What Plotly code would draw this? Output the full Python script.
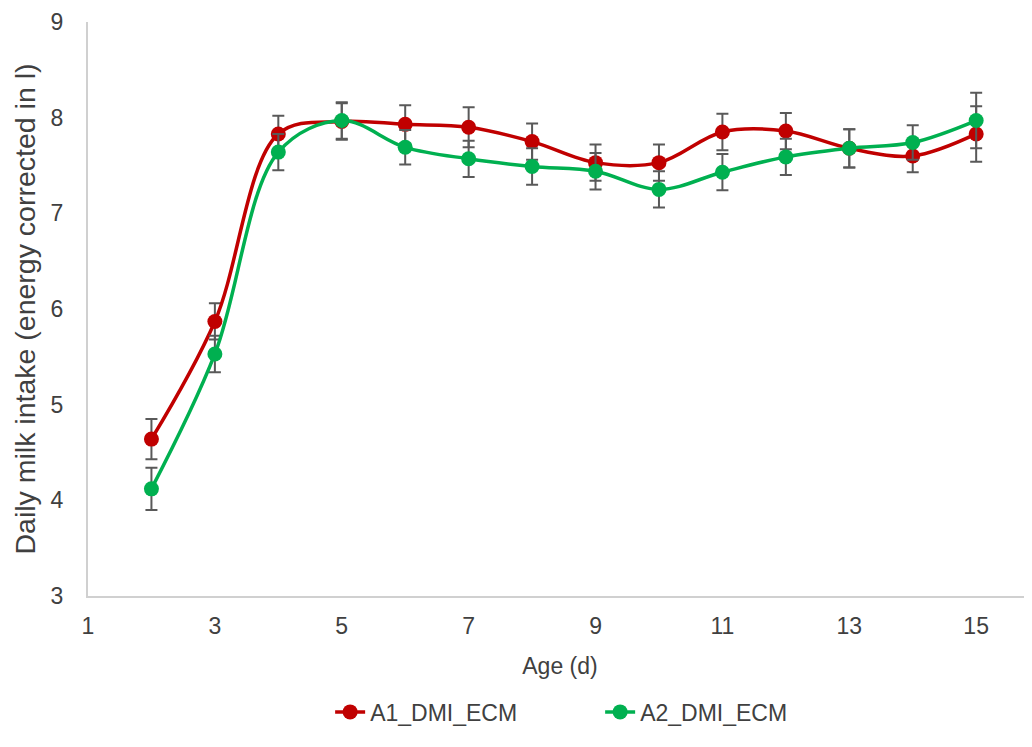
import plotly.graph_objects as go

age = [2, 3, 4, 5, 6, 7, 8, 9, 10, 11, 12, 13, 14, 15]
a1_values = [4.64, 5.87, 7.83, 7.96, 7.93, 7.90, 7.75, 7.53, 7.53, 7.85, 7.86, 7.68, 7.60, 7.83]
a1_err = [0.21, 0.19, 0.19, 0.19, 0.20, 0.21, 0.19, 0.19, 0.19, 0.19, 0.19, 0.20, 0.17, 0.29]
a2_values = [4.12, 5.53, 7.64, 7.97, 7.69, 7.57, 7.49, 7.44, 7.25, 7.43, 7.59, 7.68, 7.74, 7.97]
a2_err = [0.22, 0.19, 0.19, 0.19, 0.18, 0.19, 0.19, 0.19, 0.19, 0.19, 0.19, 0.20, 0.18, 0.29]

series_names = ["A1_DMI_ECM", "A2_DMI_ECM"]
x_ticks = [1, 3, 5, 7, 9, 11, 13, 15]
y_ticks = [3, 4, 5, 6, 7, 8, 9]

RED = "#C00000"
GREEN = "#00B050"
ERR = "#595959"
TXT = "#404040"
FONT = "Liberation Sans, Arial, sans-serif"

fig = go.Figure()
for name, vals, errs, col in [
    (series_names[0], a1_values, a1_err, RED),
    (series_names[1], a2_values, a2_err, GREEN),
]:
    fig.add_trace(go.Scatter(
        x=age, y=vals, name=name, mode="lines+markers",
        line=dict(color=col, width=3.5, shape="spline", smoothing=1),
        marker=dict(color=col, size=15),
        error_y=dict(type="data", array=errs, visible=True,
                     color=ERR, thickness=2, width=6),
    ))

fig.update_layout(
    width=1024, height=739,
    margin=dict(l=80, r=0, t=14, b=151),
    plot_bgcolor="white", paper_bgcolor="white",
    font=dict(family=FONT, size=23, color=TXT),
    showlegend=True,
    legend=dict(orientation="h", x=0.2565, xanchor="left", y=-0.202, yanchor="middle",
                font=dict(size=23, color=TXT), tracegroupgap=0,
                entrywidth=225, entrywidthmode="pixels"),
    xaxis=dict(range=[1, 15.88], tickvals=x_ticks, showgrid=False, zeroline=False,
               showline=True, linecolor="#D0D0D0", linewidth=2, ticks="",
               automargin=False, ticklabelstandoff=8,
               tickfont=dict(size=23, color=TXT),
               title=dict(text="Age (d)", font=dict(size=23, color=TXT), standoff=20)),
    yaxis=dict(range=[3, 9], tickvals=y_ticks, showgrid=False, zeroline=False,
               showline=True, linecolor="#D0D0D0", linewidth=2, ticks="",
               automargin=False, ticklabelstandoff=18,
               tickfont=dict(size=23, color=TXT),
               title=dict(text="Daily milk intake (energy corrected in l)",
                          font=dict(size=28.5, color=TXT), standoff=7)),
)

fig.write_html("out.html")
